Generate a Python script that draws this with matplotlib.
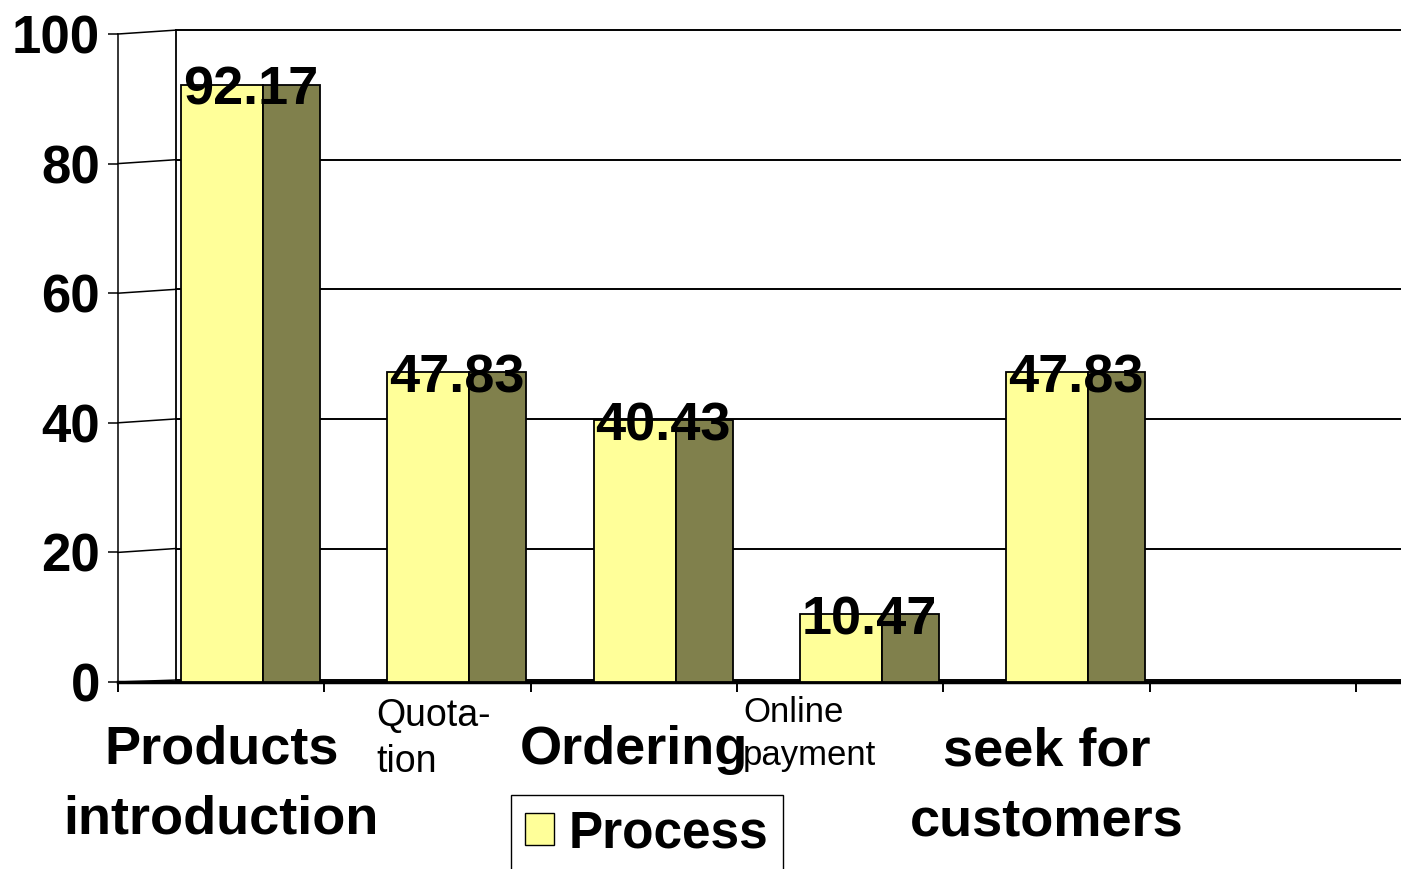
import matplotlib
matplotlib.use("Agg")
import matplotlib.pyplot as plt
import numpy as np
from matplotlib.patches import Patch

categories = ["Products\nintroduction", "Quota-\ntion", "Ordering", "Online\npayment", "seek for\ncustomers"]
values = [92.17, 47.83, 40.43, 10.47, 47.83]
yticks = [0, 20, 40, 60, 80, 100]
series_name = "Process"

front_col = "#FFFF99"
side_col = "#80804C"
plt.rcParams['font.family'] = ['Liberation Sans', 'DejaVu Sans']

fig = plt.figure(figsize=(14.01, 8.69), dpi=100)
ax = fig.add_axes([118/1401, (869-682)/869, (1401-118)/1401, (682-34)/869])

x = np.arange(len(values))
ax.set_xlim(-0.5, -0.5 + 1283/206.3)
ax.set_ylim(0, 100)

# back wall + gridlines (pseudo 3d)
xb = -0.5 + 58/206.3
for v in yticks:
    dz = 0.6 if v > 0 else 0.3
    ax.plot([xb, ax.get_xlim()[1]], [v + dz, v + dz], color="black", lw=1.4, zorder=1, clip_on=False)
    ax.plot([-0.5, xb], [v, v + dz], color="black", lw=1.1, zorder=1, clip_on=False)
ax.plot([xb, xb], [0.3, 100.6], color="black", lw=1.3, zorder=1, clip_on=False)

# bars: front face + side face
ax.bar(x - 0.195, values, width=0.398, align="edge", color=front_col,
       edgecolor="black", linewidth=1.3, zorder=3)
ax.bar(x + 0.203, values, width=0.276, align="edge", color=side_col,
       edgecolor="black", linewidth=1.3, zorder=3)

for xi, v in zip(x, values):
    ax.annotate(f"{v:.2f}", xy=(xi + 0.1425, v), xytext=(0, -20), textcoords="offset pixels",
                ha="center", va="baseline", fontsize=39, fontweight="bold", zorder=5)

# category labels (offset = baseline of last line below the axis)
lab_style = [
    dict(dx=0.0, off=-151, ha="center", size=39, weight="bold", ls=1.51),
    dict(dx=-0.249, off=-90, ha="left", size=27, weight="normal", ls=1.35),
    dict(dx=0.0, off=-82, ha="center", size=39, weight="bold", ls=1.51),
    dict(dx=-0.47, off=-83, ha="left", size=25, weight="normal", ls=1.38),
    dict(dx=0.0, off=-153, ha="center", size=39, weight="bold", ls=1.51),
]
for xi, lab, st in zip(x, categories, lab_style):
    ax.annotate(lab, xy=(xi + st["dx"], 0), xytext=(0, st["off"]), textcoords="offset pixels",
                ha=st["ha"], va="baseline", multialignment="left" if st["ha"] == "left" else "center",
                fontsize=st["size"], fontweight=st["weight"], linespacing=st["ls"],
                annotation_clip=False)

ax.set_yticks(yticks)
ax.set_yticklabels([str(t) for t in yticks], fontsize=38, fontweight="bold")
ax.tick_params(axis="y", length=7.2, width=1.1, pad=5.8)
ax.set_xticks(np.arange(-0.5, len(values) + 1, 1))
ax.set_xticklabels([])
ax.tick_params(axis="x", length=7.5, width=1.4)

ax.spines["top"].set_visible(False)
ax.spines["right"].set_visible(False)
ax.spines["left"].set_linewidth(1.1)
ax.spines["bottom"].set_linewidth(2.5)
ax.patch.set_visible(False)

fig.legend(handles=[Patch(facecolor=front_col, edgecolor="black", linewidth=1.0, label=series_name)],
           loc="upper left", bbox_to_anchor=(511/1401, 1 - 795/869), borderaxespad=0,
           prop=dict(size=37, weight="bold"), frameon=True, fancybox=False,
           edgecolor="black", framealpha=1, handlelength=0.56, handleheight=0.58,
           handletextpad=0.29, borderpad=0.28)

fig.savefig("out.png", dpi=100)
